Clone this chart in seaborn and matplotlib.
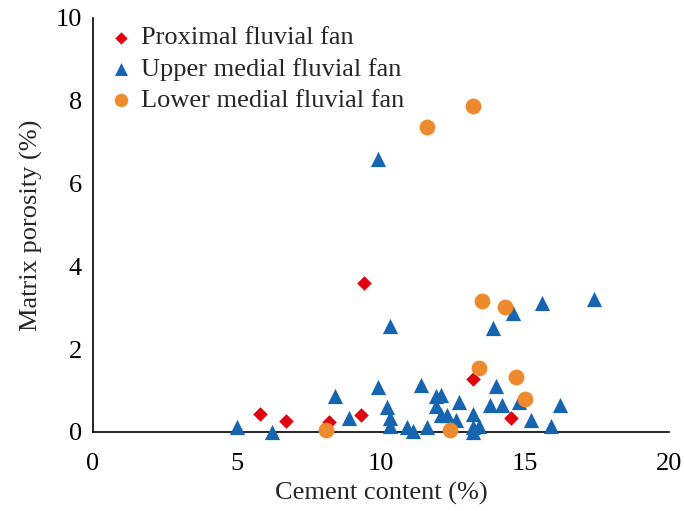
import matplotlib
matplotlib.use("Agg")
import matplotlib.pyplot as plt
import seaborn as sns
import pandas as pd

# Data
prox_x = [5.8, 6.7, 8.2, 9.3, 9.4, 13.2, 14.5]
prox_y = [0.43, 0.27, 0.24, 0.41, 3.6, 1.28, 0.34]

upper_x = [5.0, 6.2, 8.4, 8.9, 9.9, 9.9, 10.2, 10.3, 10.3, 10.3, 10.9, 11.1, 11.4, 11.6,
           11.9, 12.1, 11.9, 12.7, 12.1, 12.3, 12.6, 13.2, 13.2, 13.2, 13.4, 13.8, 14.2,
           14.0, 13.9, 14.6, 15.6, 17.4, 14.8, 15.2, 15.9, 16.2]
upper_y = [0.12, 0.0, 0.87, 0.34, 6.6, 1.09, 0.6, 0.33, 0.15, 2.55, 0.12, 0.03, 1.13, 0.12,
           0.87, 0.89, 0.62, 0.72, 0.41, 0.41, 0.29, 0.43, 0.12, 0.0, 0.14, 0.65, 0.65,
           1.11, 2.52, 2.87, 3.11, 3.21, 0.72, 0.29, 0.14, 0.65]

lower_x = [8.1, 11.6, 13.2, 13.5, 14.3, 13.4, 14.7, 15.0, 12.4]
lower_y = [0.05, 7.37, 7.87, 3.16, 3.02, 1.55, 1.33, 0.8, 0.05]

groups = ["Proximal fluvial fan", "Upper medial fluvial fan", "Lower medial fluvial fan"]
colors = ["#E0000F", "#1565B0", "#EE8A2E"]
markers = ["D", "^", "o"]
x_ticks = [0, 5, 10, 15, 20]
y_ticks = [0, 2, 4, 6, 8, 10]

df = pd.DataFrame({
    "x": prox_x + upper_x + lower_x,
    "y": prox_y + upper_y + lower_y,
    "group": [groups[0]] * len(prox_x) + [groups[1]] * len(upper_x) + [groups[2]] * len(lower_x),
})

sns.set_style("white")
plt.rcParams["font.family"] = ["Liberation Serif", "DejaVu Serif"]

fig = plt.figure(figsize=(6.84, 5.11), dpi=100)
ax = fig.add_axes([0.136, 0.1546, 0.842, 0.8104])

sizes_map = {groups[0]: 55, groups[1]: 120, groups[2]: 130}
for g, c, m in zip(groups, colors, markers):
    sub = df[df["group"] == g]
    sns.scatterplot(data=sub, x="x", y="y", color=c, marker=m, s=sizes_map[g],
                    linewidth=0, ax=ax, clip_on=False, label=g, zorder=3)

ax.set_xlim(0, 20)
ax.set_ylim(0, 10)
ax.set_xticks(x_ticks)
ax.set_yticks(y_ticks)
ax.set_xlabel("Cement content (%)", fontsize=19, labelpad=5)
ax.set_ylabel("Matrix porosity (%)", fontsize=19, labelpad=9)
ax.tick_params(axis="both", direction="in", length=5, width=1.2, labelsize=19,
               colors="black")
ax.tick_params(axis="x", pad=15)
ax.tick_params(axis="y", pad=8)
for s in ["top", "right"]:
    ax.spines[s].set_visible(False)
for s in ["left", "bottom"]:
    ax.spines[s].set_color("black")
    ax.spines[s].set_linewidth(1.2)

leg = ax.legend(loc="upper left", bbox_to_anchor=(-0.018, 1.025), frameon=False,
                fontsize=19, handletextpad=0.0, labelspacing=0.3,
                borderaxespad=0.3, handlelength=1.5, markerscale=0.85)

fig.savefig("out.png", dpi=100)
